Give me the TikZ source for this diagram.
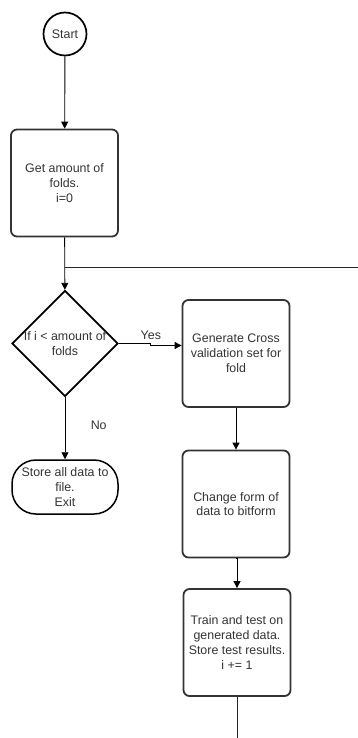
\documentclass[tikz,border=0pt]{standalone}
\usepackage{fontspec}
\setmainfont{Liberation Sans}
\usetikzlibrary{shapes.geometric,arrows.meta}
\definecolor{inkgray}{HTML}{333333}
\tikzset{every node/.style={font=\fontsize{12.4}{14.8}\selectfont,text=inkgray},
    stepbox/.style={draw=inkgray,line width=1.8pt,rounded corners=6pt,
        minimum width=107pt,minimum height=107pt,align=center,inner sep=1pt},
    startnode/.style={draw=black,line width=1.7pt,circle,minimum size=43pt,inner sep=0pt},
    decision/.style={draw=black,line width=1.7pt,diamond,aspect=1,minimum size=106pt,inner sep=0pt},
    terminal/.style={draw=black,line width=1.5pt,rounded corners=24pt,
        minimum width=106pt,minimum height=54pt,align=center,inner sep=1pt},
    flow/.style={draw=black,line width=0.9pt,-{Triangle[length=7pt,width=7pt]}},
    plain/.style={draw=black!85,line width=0.9pt}}

\begin{document}
\begin{tikzpicture}[x=1pt,y=-1pt]
\useasboundingbox (0,0) rectangle (358,738);
\node[startnode] (start) at (65,34) {Start};
\node[stepbox] (get) at (64.5,183) {Get amount of\\folds.\\i=0};
\node[decision,label={[align=center,text=inkgray]center:If i < amount of\\folds}] (dec) at (65,343.5) {};
\node[terminal] (store) at (65,487) {Store all data to\\file.\\Exit};
\node[stepbox] (gen) at (236,353.5) {Generate Cross\\validation set for\\fold};
\node[stepbox] (form) at (236,504) {Change form of\\data to bitform};
\node[stepbox] (train) at (237,642.5) {Train and test on\\generated data.\\Store test results.\\i += 1};
\coordinate (loop) at (358,267);
\coordinate (tail) at (237,738);
% connectors
\draw[flow] (start) -- (get);
\draw[flow] (get) -- (dec);
\draw[plain] (get.south |- loop) -- (loop);
\draw[flow] (dec.east) -- ++(32,0) |- ([yshift=-2pt]dec.east -| gen.west)
    node[pos=0.2,above=1pt] {Yes};
\draw[flow] (dec) -- (store) node[pos=0.45,right=22pt] {No};
\draw[flow] (gen) -- (form);
\draw[flow] (form.south) -- (form.south -| train.north) -- (train.north);
\draw[plain] (train) -- (tail);
\end{tikzpicture}
\end{document}
